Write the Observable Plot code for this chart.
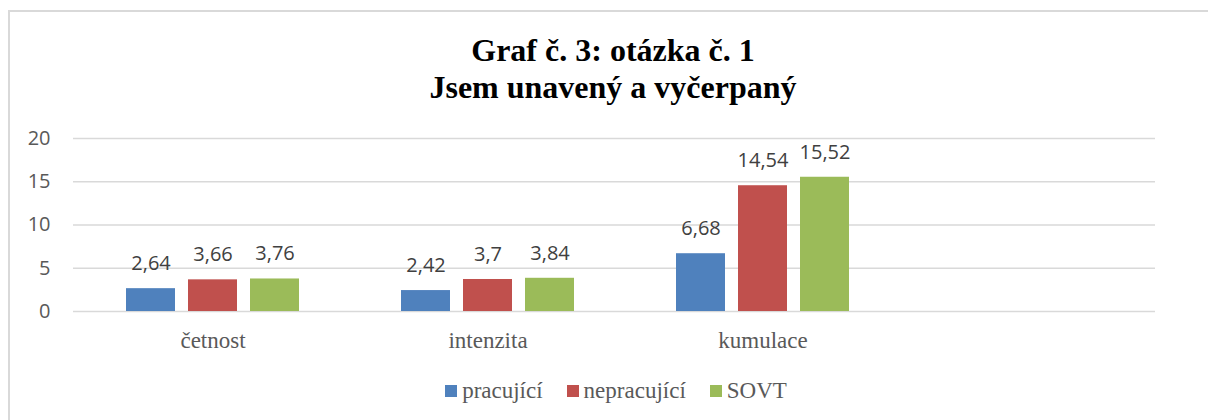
<!DOCTYPE html>
<html>
<head>
<meta charset="utf-8">
<script src="https://cdn.jsdelivr.net/npm/d3@7"></script>
<script src="https://cdn.jsdelivr.net/npm/@observablehq/plot@0.6"></script>
<style>
  html, body { margin: 0; padding: 0; background: #fff; overflow: hidden; width: 1208px; height: 420px; }
  #frame { position: absolute; left: 8px; top: 10px; width: 1400px; height: 600px; border: 2px solid #d9d9d9; box-sizing: border-box; }
  #title { position: absolute; left: 0; top: 32px; width: 1226px; text-align: center;
    font-family: "Liberation Serif", "Times New Roman", serif; font-weight: bold; font-size: 32px; line-height: 37px; color: #000; }
  #chart { position: absolute; left: 0; top: 120px; }
  #legend { position: absolute; left: 0; top: 379px; width: 1232px; display: flex; justify-content: center; gap: 24px;
    font-family: "Liberation Serif", "Times New Roman", serif; font-size: 23px; line-height: 23px; color: #595959; }
  .item { display: flex; align-items: flex-start; }
  .sw { width: 12px; height: 12px; margin-top: 6px; margin-right: 5px; }
</style>
</head>
<body>
<div id="frame"></div>
<div id="title">Graf č. 3: otázka č. 1<br>Jsem unavený a vyčerpaný</div>
<div id="chart"></div>
<div id="legend"></div>
<script>
const categories = ["četnost", "intenzita", "kumulace"];
const seriesNames = ["pracující", "nepracující", "SOVT"];
const pracujici = [2.64, 2.42, 6.68];
const nepracujici = [3.66, 3.7, 14.54];
const sovt = [3.76, 3.84, 15.52];
const yTicks = [0, 5, 10, 15, 20];
const colors = ["#4f81bd", "#c0504d", "#9bbb59"];

const seriesValues = [pracujici, nepracujici, sovt];
const offsets = [-62, 0, 62];
const fmt = v => String(v).replace(".", ",");
const numFont = "'Open Sans', 'Liberation Sans', sans-serif";
const serifFont = "'Liberation Serif', 'Times New Roman', serif";

const marks = [
  Plot.gridY(yTicks, {stroke: "#d9d9d9", strokeOpacity: 1, strokeWidth: 1.5}),
  Plot.axisY(yTicks, {tickSize: 0, tickPadding: 23, fontSize: 20, fill: "#595959", fontFamily: numFont, label: null}),
  Plot.axisX({tickSize: 0, tickPadding: 20, fontSize: 23, fill: "#595959", fontFamily: serifFont, label: null})
];
seriesValues.forEach((vals, si) => {
  const rows = categories.map((c, i) => ({cat: c, value: vals[i]}));
  marks.push(Plot.barY(rows, {x: "cat", y: "value", fill: colors[si], insetLeft: 113, insetRight: 113, dx: offsets[si]}));
  marks.push(Plot.text(rows, {x: "cat", y: "value", text: d => fmt(d.value), dx: offsets[si], dy: -25,
    fontSize: 20, fill: "#404040", fontFamily: numFont}));
});

const chart = Plot.plot({
  width: 1208, height: 250,
  marginTop: 18, marginBottom: 59, marginLeft: 73, marginRight: 53,
  x: {domain: categories, range: [75, 900], padding: 0, label: null, axis: null},
  y: {domain: [0, 20], label: null, axis: null},
  style: {background: "transparent", overflow: "visible"},
  marks
});
document.getElementById("chart").appendChild(chart);

const legend = document.getElementById("legend");
seriesNames.forEach((n, i) => {
  const it = document.createElement("div");
  it.className = "item";
  const sw = document.createElement("div");
  sw.className = "sw";
  sw.style.background = colors[i];
  const tx = document.createElement("span");
  tx.textContent = n;
  it.appendChild(sw); it.appendChild(tx);
  legend.appendChild(it);
});
</script>
</body>
</html>
